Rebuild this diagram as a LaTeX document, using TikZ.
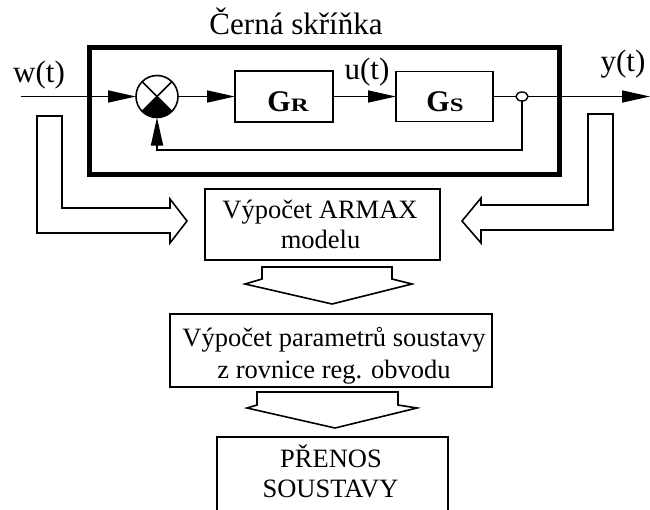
\documentclass[tikz,border=0pt]{standalone}
\usepackage{fontspec}
\usepackage{graphicx}
\setmainfont{Liberation Serif}
\usetikzlibrary{arrows.meta,shapes.geometric}
\begin{document}
\begin{tikzpicture}[x=1pt,y=-1pt,
  thinln/.style={line width=1.6pt},
  blk/.style={draw, line width=1.6pt, rectangle, inner sep=0pt, outer sep=0pt},
  arr/.style={line width=1.6pt, -{Triangle[length=28pt,width=12pt]}},
  lbl/.style={font=\fontsize{31}{31}\selectfont, inner sep=0pt, anchor=base},
  btxt/.style={font=\fontsize{26.5}{30}\selectfont, inner sep=0pt, anchor=base},
  gtxt/.style={font=\fontsize{30}{32}\selectfont\bfseries, inner sep=0pt, anchor=base},
  hollow/.style={draw, line width=1.6pt, line join=miter, fill=white}
]
\useasboundingbox (0,0) rectangle (650,509);
\clip (0,0) rectangle (650,509);

% title and black box
\node[lbl] (title) at (296,34) {Černá skříňka};
\node[draw, line width=5pt, inner sep=0pt, outer sep=0pt, minimum width=469.5pt, minimum height=127pt] (bb) at (324.25,111) {};

% summing junction
\node[circle, draw, line width=1.6pt, minimum size=42pt, inner sep=0pt, outer sep=0pt] (sum) at (157,96.5) {};
\fill (sum.center) -- (sum.-45) arc[start angle=-45, end angle=-135, radius=21pt] -- cycle;
\draw[thinln] (sum.45) -- (sum.-135);
\draw[thinln] (sum.135) -- (sum.-45);

% blocks
\node[blk, minimum width=98pt, minimum height=51pt] (gr) at (284,96.5) {};
\node[gtxt] (grt) at (288,111) {G\scalebox{1.3}[1]{\fontsize{19}{20}\selectfont R}};
\node[blk, minimum width=97pt, minimum height=50pt] (gs) at (444.5,96.5) {};
\node[gtxt] (gst) at (445,111.5) {G\scalebox{1.3}[1]{\fontsize{19}{20}\selectfont S}};

% branch point
\node[ellipse, draw, line width=1.4pt, minimum width=12pt, minimum height=9pt, inner sep=0pt, outer sep=0pt] (bp) at (522,96.5) {};

% signal lines
\coordinate (win) at (21,96.5);
\coordinate (yout) at (650,96.5);
\coordinate (fb) at (522,150);
\draw[arr] (win) -- (sum.west);
\draw[arr] (sum.east) -- (gr.west);
\draw[arr] (gr.east) -- (gs.west);
\draw[thinln] (gs.east) -- (bp.west);
\draw[arr] (bp.east) -- (yout);
\draw[arr] (bp.south) -- (fb) -| (sum.south);

% labels
\node[lbl] (wl) at (39,82) {w(t)};
\node[lbl] (ul) at (367,79) {u(t)};
\node[lbl] (yl) at (623,71) {y(t)};

% hollow arrows
\draw[hollow] (37,116) -- (37,233) -- (170,233) -- (170,243) -- (187,221) -- (170,199) -- (170,208) -- (62,208) -- (62,116) -- cycle;
\draw[hollow] (613,114) -- (613,230) -- (481,230) -- (481,243) -- (462,221) -- (481,198) -- (481,205) -- (588,205) -- (588,114) -- cycle;
\draw[hollow] (262,267) -- (392,267) -- (392,279) -- (412,284) -- (332,304) -- (245,284) -- (262,279) -- cycle;
\draw[hollow] (257,392) -- (398,392) -- (398,405) -- (417,408) -- (335,428) -- (247,408) -- (257,405) -- cycle;

% computation boxes
\node[blk, minimum width=235pt, minimum height=71pt] (armax) at (322.5,224.5) {};
\node[btxt] (armax1) at (320,218) {Výpočet ARMAX};
\node[btxt] (armax2) at (320.5,248) {modelu};

\node[blk, minimum width=322pt, minimum height=73pt] (param) at (331,350.5) {};
\node[btxt] (param1) at (334,346) {Výpočet parametrů soustavy};
\node[btxt] (param2) at (334,378) {z rovnice reg. obvodu};

\node[blk, minimum width=231pt, minimum height=83pt] (prenos) at (332.5,478.5) {};
\node[btxt] (prenos1) at (331,467) {PŘENOS};
\node[btxt] (prenos2) at (330.5,497) {SOUSTAVY};
\end{tikzpicture}
\end{document}
